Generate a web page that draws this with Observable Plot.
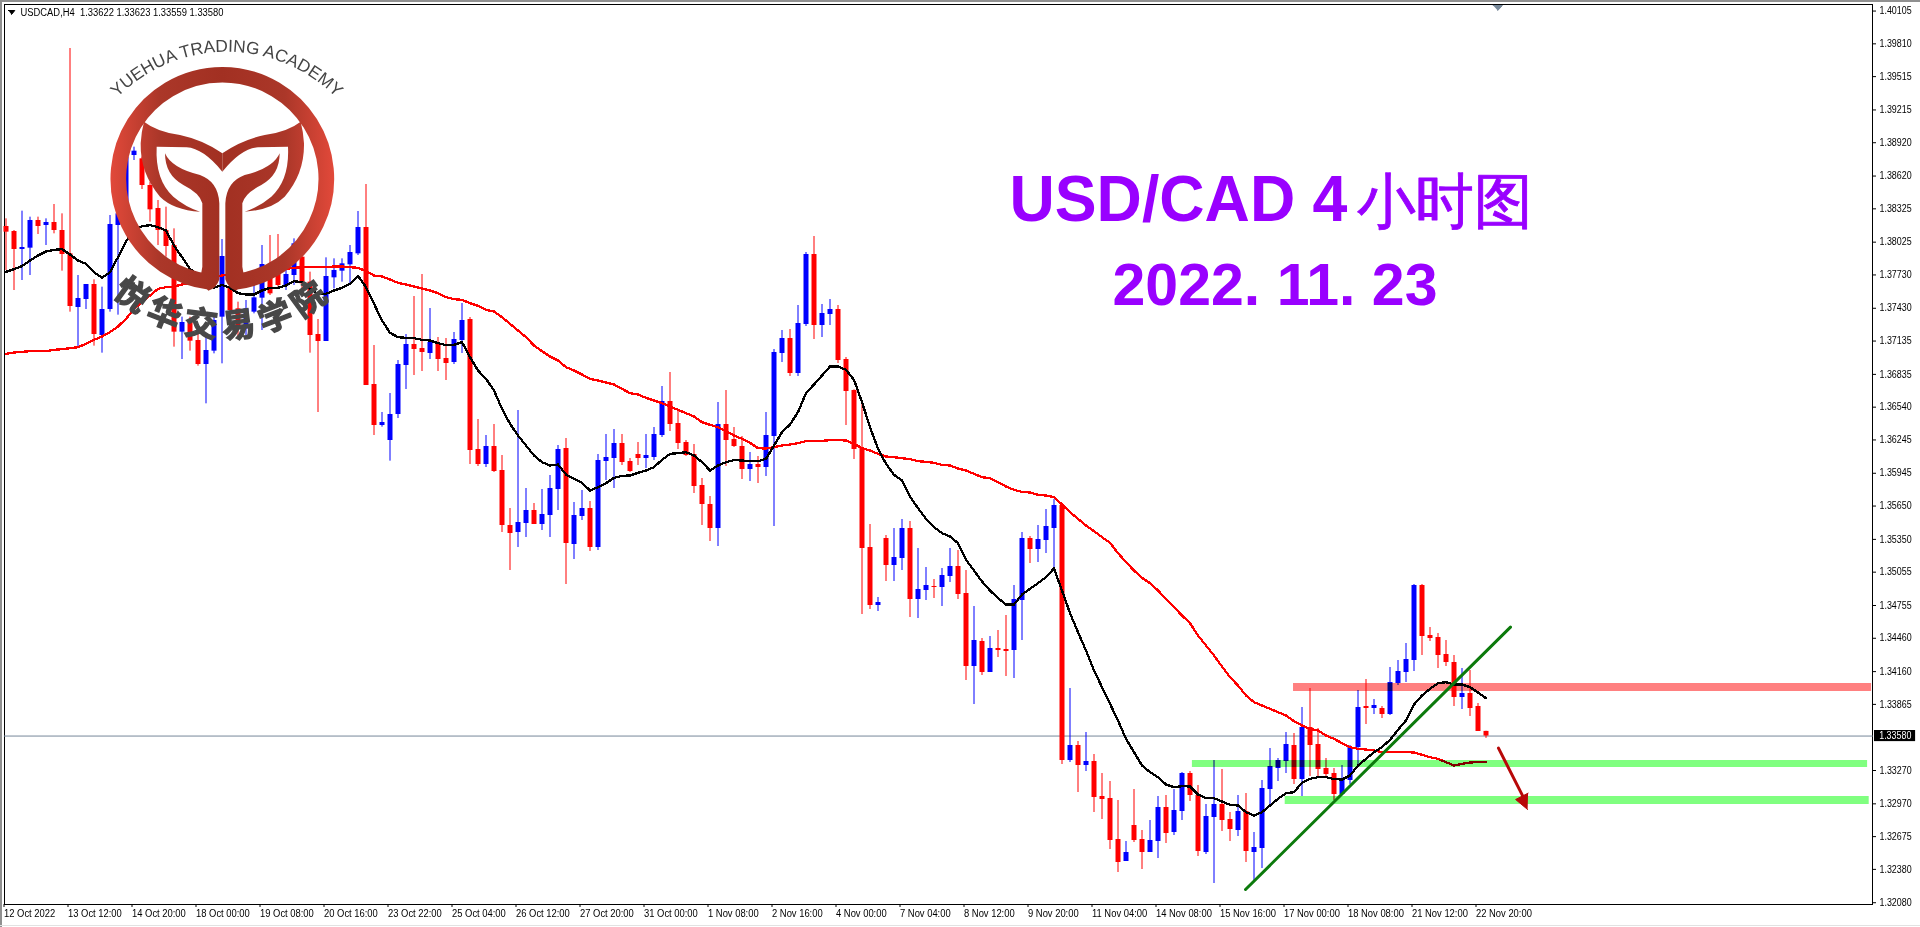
<!DOCTYPE html>
<html><head><meta charset="utf-8">
<style>
html,body{margin:0;padding:0;background:#fff;overflow:hidden}
#wrap{position:relative;width:1920px;height:927px}
.edge{position:absolute;background:#909090}
#logo{position:absolute;left:0;top:0;pointer-events:none}
</style>
<script src="https://cdn.jsdelivr.net/npm/d3@7"></script>
<script src="https://cdn.jsdelivr.net/npm/@observablehq/plot@0.6"></script>
</head><body>
<div id="wrap"></div>
<script>
const highs=[
1.38235,1.38130,1.38304,1.38250,1.38250,1.38235,1.38364,1.38280,1.39768,1.37725,
1.37644,1.37686,1.37620,1.38265,1.38340,1.38850,1.38880,1.38790,1.38565,1.38400,
1.38340,1.38145,1.37350,1.37350,1.37200,1.37200,1.37380,1.38049,1.37740,1.37485,
1.37500,1.37740,1.37995,1.38085,1.38094,1.37860,1.38055,1.37950,1.37755,1.37329,
1.37884,1.37875,1.37875,1.37995,1.38301,1.38544,1.37095,1.36492,1.36663,1.36960,
1.37194,1.37536,1.37734,1.37428,1.37167,1.37158,1.37212,1.37473,1.37347,1.36429,
1.36285,1.36384,1.36105,1.35628,1.36510,1.35808,1.35673,1.35799,1.35925,1.36195,
1.36258,1.35682,1.35790,1.35691,1.36114,1.36294,1.36339,1.36294,1.36078,1.36222,
1.36294,1.36357,1.36726,1.36852,1.36510,1.36240,1.36204,1.35898,1.35736,1.36582,
1.36690,1.36357,1.36276,1.36132,1.36096,1.36492,1.37059,1.37230,1.37239,1.37455,
1.37932,1.38076,1.37464,1.37509,1.37455,1.36987,1.36696,1.36570,1.35484,1.34827,
1.35385,1.35448,1.35529,1.35511,1.35268,1.35097,1.34989,1.35088,1.35268,1.35250,
1.35070,1.34746,1.34458,1.34476,1.34530,1.34665,1.34935,1.35412,1.35376,1.35475,
1.35619,1.35709,1.35655,1.34008,1.33531,1.33612,1.33414,1.33243,1.33171,1.33000,
1.32631,1.33099,1.32730,1.32820,1.33036,1.33045,1.33099,1.33252,1.33261,1.33135,
1.32964,1.33360,1.33279,1.32892,1.33045,1.33063,1.32712,1.33180,1.33468,1.33378,
1.33612,1.33603,1.33837,1.34008,1.33648,1.33378,1.33288,1.33315,1.33495,1.33990,
1.34089,1.33909,1.33846,1.34197,1.34260,1.34413,1.34944,1.34944,1.34557,1.34503,
1.34440,1.34305,1.34188,1.34170,1.33873,1.33623];
const lows=[
1.37770,1.37590,1.37680,1.37725,1.38094,1.37995,1.38100,1.37764,1.37395,1.37080,
1.37419,1.37089,1.37026,1.37395,1.37368,1.38160,1.38760,1.38499,1.38205,1.37995,
1.37890,1.37080,1.36969,1.37044,1.36909,1.36570,1.37020,1.36930,1.37395,1.37170,
1.37185,1.37380,1.37230,1.37545,1.37620,1.37590,1.37635,1.37560,1.37026,1.36492,
1.37131,1.37605,1.37665,1.37650,1.37905,1.36735,1.36285,1.36360,1.36054,1.36438,
1.36699,1.36825,1.36861,1.36969,1.36861,1.36780,1.36924,1.37023,1.36024,1.36006,
1.35997,1.35952,1.35412,1.35070,1.35277,1.35367,1.35484,1.35430,1.35367,1.35610,
1.34944,1.35169,1.35520,1.35241,1.35250,1.35880,1.35808,1.36015,1.35952,1.36015,
1.35988,1.36060,1.36267,1.36321,1.36159,1.36096,1.35763,1.35475,1.35331,1.35286,
1.36006,1.36177,1.35889,1.35871,1.35853,1.35916,1.35466,1.36942,1.36816,1.36816,
1.37266,1.37149,1.37167,1.37275,1.36933,1.36375,1.36069,1.34674,1.34719,1.34701,
1.34971,1.34971,1.35070,1.34647,1.34638,1.34800,1.34818,1.34746,1.34962,1.34809,
1.34080,1.33864,1.34125,1.34152,1.34287,1.34116,1.34098,1.34440,1.35133,1.35142,
1.35223,1.35088,1.33324,1.33342,1.33072,1.33261,1.32892,1.32829,1.32559,1.32352,
1.32451,1.32622,1.32379,1.32532,1.32478,1.32613,1.32685,1.32820,1.32991,1.32496,
1.32514,1.32253,1.32721,1.32631,1.32676,1.32442,1.32280,1.32388,1.32946,1.33171,
1.33243,1.33144,1.33036,1.33216,1.33207,1.33207,1.33000,1.33045,1.33144,1.33315,
1.33684,1.33774,1.33738,1.33765,1.34035,1.34062,1.34161,1.34305,1.34431,1.34188,
1.34206,1.33846,1.33819,1.33756,1.33621,1.33559];
const opens=[
1.38166,1.38121,1.37959,1.37971,1.38220,1.38175,1.38202,1.38130,1.37920,1.37437,
1.37509,1.37644,1.37185,1.37419,1.38175,1.38280,1.38805,1.38775,1.38535,1.38328,
1.38130,1.37995,1.37215,1.37302,1.37140,1.36924,1.37044,1.37350,1.37620,1.37425,
1.37245,1.37395,1.37521,1.37824,1.37800,1.37629,1.37725,1.37890,1.37665,1.37194,
1.37131,1.37704,1.37764,1.37821,1.37920,1.38157,1.36744,1.36375,1.36240,1.36474,
1.36915,1.37104,1.37068,1.37023,1.37104,1.36978,1.36942,1.37140,1.37329,1.36159,
1.36024,1.36186,1.35970,1.35475,1.35412,1.35493,1.35610,1.35484,1.35565,1.35799,
1.36168,1.35304,1.35556,1.35628,1.35277,1.36051,1.36078,1.36213,1.36051,1.36114,
1.36078,1.36087,1.36285,1.36591,1.36393,1.36222,1.36114,1.35835,1.35664,1.35448,
1.36384,1.36249,1.36186,1.35979,1.36024,1.35997,1.36276,1.37023,1.37158,1.36843,
1.37284,1.37914,1.37275,1.37374,1.37419,1.36969,1.36690,1.36168,1.35277,1.34755,
1.35358,1.35115,1.35178,1.35448,1.34809,1.34890,1.34926,1.34917,1.35016,1.35106,
1.34863,1.34206,1.34431,1.34152,1.34368,1.34359,1.34350,1.34800,1.35358,1.35259,
1.35340,1.35448,1.35655,1.33360,1.33495,1.33315,1.33351,1.33036,1.33018,1.32649,
1.32451,1.32775,1.32649,1.32532,1.32631,1.32937,1.32712,1.32901,1.33243,1.33045,
1.32532,1.32847,1.32964,1.32829,1.32730,1.32901,1.32532,1.32568,1.33099,1.33288,
1.33351,1.33495,1.33189,1.33657,1.33504,1.33288,1.33243,1.33054,1.33180,1.33477,
1.33846,1.33828,1.33828,1.33774,1.34053,1.34152,1.34260,1.34935,1.34485,1.34467,
1.34314,1.34242,1.33927,1.33963,1.33846,1.33622];
const closes=[
1.38115,1.37959,1.37977,1.38220,1.38166,1.38202,1.38130,1.37914,1.37446,1.37518,
1.37644,1.37194,1.37419,1.38184,1.38280,1.38790,1.38844,1.38535,1.38316,1.38130,
1.37986,1.37215,1.37302,1.37134,1.36924,1.37050,1.37320,1.37896,1.37410,1.37245,
1.37425,1.37524,1.37824,1.37560,1.37635,1.37734,1.38010,1.37650,1.37185,1.37131,
1.37716,1.37770,1.37830,1.37932,1.38157,1.36735,1.36375,1.36402,1.36474,1.36924,
1.37104,1.37059,1.37032,1.37122,1.36969,1.36933,1.37149,1.37320,1.36150,1.36024,
1.36186,1.35961,1.35475,1.35403,1.35502,1.35610,1.35484,1.35574,1.35808,1.36159,
1.35313,1.35565,1.35628,1.35277,1.36060,1.36087,1.36213,1.36042,1.35961,1.36078,
1.36105,1.36294,1.36591,1.36384,1.36213,1.36105,1.35826,1.35664,1.35448,1.36384,
1.36240,1.36186,1.35979,1.36024,1.35997,1.36285,1.37032,1.37158,1.36843,1.37293,
1.37914,1.37275,1.37383,1.37419,1.36960,1.36681,1.36159,1.35268,1.34755,1.34782,
1.35115,1.35187,1.35448,1.34809,1.34899,1.34935,1.34917,1.35025,1.35106,1.34854,
1.34206,1.34440,1.34152,1.34368,1.34350,1.34341,1.34809,1.35358,1.35259,1.35349,
1.35466,1.35655,1.33360,1.33495,1.33315,1.33351,1.33027,1.33009,1.32640,1.32442,
1.32532,1.32640,1.32532,1.32640,1.32937,1.32703,1.32910,1.33243,1.33045,1.32541,
1.32856,1.32964,1.32820,1.32739,1.32901,1.32541,1.32577,1.33108,1.33306,1.33360,
1.33504,1.33189,1.33657,1.33495,1.33279,1.33234,1.33054,1.33189,1.33477,1.33837,
1.33828,1.33855,1.33774,1.34062,1.34161,1.34269,1.34935,1.34476,1.34458,1.34305,
1.34242,1.33927,1.33963,1.33828,1.33621,1.33580];
const blackMA=[
1.37758,1.37782,1.37809,1.37860,1.37905,1.37941,1.37956,1.37962,1.37914,1.37860,
1.37830,1.37755,1.37704,1.37755,1.37890,1.38034,1.38130,1.38169,1.38178,1.38160,
1.38130,1.37995,1.37890,1.37785,1.37725,1.37644,1.37614,1.37641,1.37614,1.37566,
1.37554,1.37554,1.37590,1.37614,1.37614,1.37635,1.37674,1.37665,1.37605,1.37560,
1.37560,1.37590,1.37614,1.37650,1.37722,1.37620,1.37470,1.37320,1.37209,1.37170,
1.37164,1.37161,1.37146,1.37140,1.37116,1.37098,1.37101,1.37125,1.36990,1.36870,
1.36795,1.36690,1.36525,1.36390,1.36285,1.36195,1.36105,1.36045,1.36015,1.36024,
1.35934,1.35895,1.35859,1.35790,1.35820,1.35856,1.35904,1.35922,1.35925,1.35949,
1.35970,1.36000,1.36066,1.36120,1.36126,1.36135,1.36105,1.36045,1.35970,1.36015,
1.36045,1.36063,1.36060,1.36054,1.36054,1.36075,1.36195,1.36315,1.36384,1.36495,
1.36666,1.36744,1.36825,1.36906,1.36906,1.36876,1.36786,1.36585,1.36360,1.36165,
1.36030,1.35931,1.35880,1.35736,1.35631,1.35535,1.35460,1.35406,1.35376,1.35316,
1.35166,1.35070,1.34971,1.34890,1.34821,1.34764,1.34764,1.34854,1.34905,1.34956,
1.35010,1.35088,1.34890,1.34686,1.34515,1.34350,1.34170,1.34020,1.33870,1.33720,
1.33555,1.33435,1.33315,1.33255,1.33210,1.33144,1.33120,1.33129,1.33126,1.33054,
1.33021,1.33021,1.32991,1.32961,1.32955,1.32895,1.32865,1.32895,1.32955,1.33015,
1.33066,1.33075,1.33159,1.33195,1.33210,1.33210,1.33192,1.33189,1.33225,1.33315,
1.33375,1.33435,1.33480,1.33546,1.33636,1.33720,1.33864,1.33945,1.34005,1.34056,
1.34065,1.34044,1.34044,1.34020,1.33972,1.33921];
const redMA=[
1.37020,1.37032,1.37038,1.37044,1.37044,1.37044,1.37056,1.37062,1.37071,1.37080,
1.37110,1.37146,1.37176,1.37215,1.37266,1.37335,1.37425,1.37485,1.37545,1.37605,
1.37620,1.37626,1.37644,1.37656,1.37665,1.37680,1.37710,1.37725,1.37740,1.37740,
1.37740,1.37746,1.37755,1.37764,1.37776,1.37785,1.37794,1.37800,1.37800,1.37800,
1.37800,1.37806,1.37806,1.37800,1.37794,1.37764,1.37725,1.37716,1.37689,1.37659,
1.37644,1.37626,1.37608,1.37590,1.37566,1.37530,1.37512,1.37506,1.37476,1.37452,
1.37416,1.37401,1.37350,1.37290,1.37230,1.37170,1.37095,1.37044,1.36996,1.36960,
1.36900,1.36870,1.36834,1.36795,1.36780,1.36762,1.36744,1.36705,1.36666,1.36654,
1.36624,1.36600,1.36576,1.36546,1.36516,1.36486,1.36456,1.36405,1.36381,1.36360,
1.36324,1.36285,1.36255,1.36219,1.36171,1.36168,1.36180,1.36195,1.36204,1.36216,
1.36234,1.36234,1.36237,1.36243,1.36243,1.36240,1.36210,1.36171,1.36150,1.36120,
1.36096,1.36090,1.36081,1.36072,1.36054,1.36048,1.36039,1.36021,1.36015,1.35988,
1.35970,1.35940,1.35910,1.35901,1.35865,1.35826,1.35796,1.35778,1.35772,1.35751,
1.35745,1.35730,1.35664,1.35595,1.35535,1.35475,1.35424,1.35370,1.35319,1.35226,
1.35145,1.35070,1.35004,1.34956,1.34890,1.34815,1.34740,1.34665,1.34596,1.34485,
1.34395,1.34305,1.34206,1.34110,1.34035,1.33945,1.33885,1.33855,1.33825,1.33795,
1.33765,1.33714,1.33675,1.33645,1.33630,1.33585,1.33555,1.33516,1.33480,1.33465,
1.33459,1.33450,1.33435,1.33435,1.33435,1.33435,1.33432,1.33411,1.33390,1.33375,
1.33345,1.33315,1.33330,1.33342,1.33345,1.33345];
const priceTicks=[1.40105,1.39810,1.39515,1.39215,1.38920,1.38620,1.38325,1.38025,1.37730,1.37430,1.37135,1.36835,1.36540,1.36245,1.35945,1.35650,1.35350,1.35055,1.34755,1.34460,1.34160,1.33865,1.33270,1.32970,1.32675,1.32380,1.32080];
const timeLabels=["12 Oct 2022","13 Oct 12:00","14 Oct 20:00","18 Oct 00:00","19 Oct 08:00","20 Oct 16:00","23 Oct 22:00","25 Oct 04:00","26 Oct 12:00","27 Oct 20:00","31 Oct 00:00","1 Nov 08:00","2 Nov 16:00","4 Nov 00:00","7 Nov 04:00","8 Nov 12:00","9 Nov 20:00","11 Nov 04:00","14 Nov 08:00","15 Nov 16:00","17 Nov 00:00","18 Nov 08:00","21 Nov 12:00","22 Nov 20:00"];
const lastPrice=1.33580;
const bandStart=[160.94,148.3,159.9], bandEnd=[233.2,232.7,232.9];
const bandTop=[1.34053,1.33360,1.33036], bandBottom=[1.33981,1.33297,1.32964];
const bandFill=["#ff8080","#80ff80","#80ff80"];
const trendX=[154.94,188.06], trendY=[1.32199,1.34560];
const arrowX=[186.56,189.6], arrowY=[1.33471,1.33040];
const headX=[190.2,188.7,190.26], headY=[1.32919,1.33009,1.33066];
const markerX=[185.9,187.05,186.47], markerY=[1.40155,1.40155,1.40110];
const timeTicks=timeLabels.map((_,k)=>k*8);

const idx=d3.range(highs.length);
const up=idx.filter(i=>closes[i]>=opens[i]), down=idx.filter(i=>closes[i]<opens[i]);
const BLUE="#0000ff", RED="#ff0000", PURPLE="#9900ff";
const candles=(ids,color)=>[
  Plot.ruleX(ids,{x:i=>i,y1:i=>highs[i],y2:i=>lows[i],stroke:color,strokeWidth:1}),
  Plot.ruleX(ids,{x:i=>i,y1:i=>opens[i],y2:i=>closes[i],stroke:color,strokeWidth:5})
];
const title=(t,dx,dy,size,weight,cls,extra={})=>Plot.text([t],{text:d=>d,frameAnchor:"top-left",dx,dy,textAnchor:"start",lineAnchor:"bottom",fontSize:size,fontWeight:weight,fill:PURPLE,className:cls,...extra});

const chart=Plot.plot({
  width:1920,height:927,
  marginLeft:4,marginRight:48,marginTop:4,marginBottom:23,
  style:{background:"#fff",fontFamily:"'Liberation Sans',Arial,sans-serif",fontSize:"10px",color:"#000"},
  x:{type:"linear",domain:[0,185],range:[5.5,1485.5]},
  y:{type:"linear",domain:[1.4020,1.31857],range:[0,927]},
  marks:[
    Plot.frame({stroke:"#000",strokeWidth:1}),
    Plot.ruleY([lastPrice],{x1:-0.2,x2:233.4,stroke:"#778899",strokeWidth:1}),
    ...candles(up,BLUE),
    ...candles(down,RED),
    Plot.line(idx,{x:i=>i,y:i=>redMA[i],stroke:RED,strokeWidth:2.3,shapeRendering:"crispEdges"}),
    Plot.line(idx,{x:i=>i,y:i=>blackMA[i],stroke:"#000",strokeWidth:2.3,shapeRendering:"crispEdges"}),
    Plot.rect([0,1,2],{x1:k=>bandStart[k],x2:k=>bandEnd[k],y1:k=>bandTop[k],y2:k=>bandBottom[k],fill:k=>bandFill[k],mixBlendMode:"multiply"}),
    Plot.line([0,1],{x:k=>trendX[k],y:k=>trendY[k],stroke:"#0c7a0c",strokeWidth:3}),
    Plot.line([0,1],{x:k=>arrowX[k],y:k=>arrowY[k],stroke:"#b80808",strokeWidth:3}),
    Plot.line([0,1,2],{x:k=>headX[k],y:k=>headY[k],fill:"#b80808",stroke:"#b80808",strokeWidth:1}),
    Plot.line([0,1,2],{x:k=>markerX[k],y:k=>markerY[k],fill:"#778899",stroke:"#778899",strokeWidth:1}),
    Plot.axisY({anchor:"right",ticks:priceTicks,tickSize:3,tickPadding:4,tickFormat:d=>d.toFixed(5),label:null,textAnchor:"start",fontSize:10}),
    Plot.axisX({anchor:"bottom",ticks:timeTicks,tickSize:3,tickPadding:2,tickFormat:i=>timeLabels[i/8],label:null,textAnchor:"start",dx:-2,fontSize:10}),
    Plot.rect([lastPrice],{x1:233.56,x2:238.7,y1:1.33630,y2:1.33530,fill:"#000"}),
    Plot.text([lastPrice],{x:234.15,y:lastPrice,text:d=>d.toFixed(5),fill:"#fff",textAnchor:"start",fontSize:10,className:"yk"}),
    Plot.text(["USDCAD,H4\u00a0\u00a01.33622 1.33623 1.33559 1.33580"],{text:d=>d,frameAnchor:"top-left",dx:16,dy:4,textAnchor:"start",lineAnchor:"top",fontSize:10,fill:"#000",className:"hd"}),
    Plot.line([0,1,2],{x:k=>[0.3,1.1,0.7][k],y:k=>[1.40110,1.40110,1.40075][k],fill:"#000",stroke:"#000",strokeWidth:1}),
    title("USD/CAD 4",1005,216.7,64,700,"t1"),
    title("小时图",1352,217,60,400,"t2",{stroke:PURPLE,strokeWidth:0.9}),
    title("2022. 11. 23",1108,300,60,700,"t3")
  ]
});
const wrap=document.getElementById("wrap");
wrap.appendChild(chart);

function squeeze(nodes,ratio){nodes.forEach(n=>{const w=n.getComputedTextLength();n.setAttribute("textLength",w*ratio);n.setAttribute("lengthAdjust","spacingAndGlyphs");});}
squeeze(chart.querySelectorAll('[aria-label="y-axis tick label"] text, .yk text'),0.89);
squeeze(chart.querySelectorAll('[aria-label="x-axis tick label"] text'),0.94);
function fit(sel,len){chart.querySelectorAll(sel+" text").forEach(n=>{n.setAttribute("textLength",len);n.setAttribute("lengthAdjust","spacingAndGlyphs");});}
fit(".hd",203);fit(".t1",338);fit(".t2",176);fit(".t3",325);

[["0","0","1920px","2px"],["0","0","1.5px","927px"]].forEach(([l,t,w,h])=>{const d=document.createElement("div");d.className="edge";d.style.cssText=`left:${l};top:${t};width:${w};height:${h}`;wrap.appendChild(d);});
const b=document.createElement("div");b.className="edge";b.style.cssText="left:0;top:925px;width:1920px;height:1px;background:#e2e2e2";wrap.appendChild(b);

const half1="M432,365 Q470,395 540,405 Q610,420 667,460 L667,515 Q610,445 560,442 L470,440 Q465,540 520,590 Q555,620 600,635 Q520,630 480,590 Q420,520 422,430 Q424,395 432,365 Z";
const half2="M495,460 Q515,505 600,525 Q655,545 658,610 L658,838 Q650,865 625,872 L600,840 L607,800 L607,610 Q600,580 550,555 Q495,525 495,460 Z";
wrap.insertAdjacentHTML("beforeend",`<svg id="logo" width="1920" height="927" viewBox="0 0 5760 2781" xmlns="http://www.w3.org/2000/svg">
<defs><linearGradient id="lg" gradientUnits="userSpaceOnUse" x1="330" y1="0" x2="1003" y2="0">
<stop offset="0" stop-color="#e2493a"/><stop offset="0.22" stop-color="#ab3729"/><stop offset="0.5" stop-color="#a23022"/><stop offset="0.78" stop-color="#ab3729"/><stop offset="1" stop-color="#e2493a"/></linearGradient>
<path id="ta" d="M 220 615 A 460 460 0 0 1 1140 615"/>
<path id="tb" d="M 220 708 A 485 485 0 0 0 1120 708"/></defs>
<path d="M 630 846 A 312 312 0 1 1 704 846" fill="none" stroke="url(#lg)" stroke-width="47"/>
<path d="${half1}" fill="url(#lg)"/><path d="${half2}" fill="url(#lg)"/>
<g transform="translate(1334,0) scale(-1,1)"><path d="${half1}" fill="url(#lg)"/><path d="${half2}" fill="url(#lg)"/></g>
<text font-family="'Liberation Sans',Arial,sans-serif" font-size="52" fill="#444"><textPath href="#ta" startOffset="50%" text-anchor="middle">YUEHUA TRADING ACADEMY</textPath></text>
<text font-family="'Noto Sans CJK SC',sans-serif" font-size="100" font-weight="700" fill="#484848" stroke="#484848" stroke-width="4" letter-spacing="22"><textPath href="#tb" startOffset="50%" text-anchor="middle">悦华交易学院</textPath></text>
</svg>`);
</script>
</body></html>
